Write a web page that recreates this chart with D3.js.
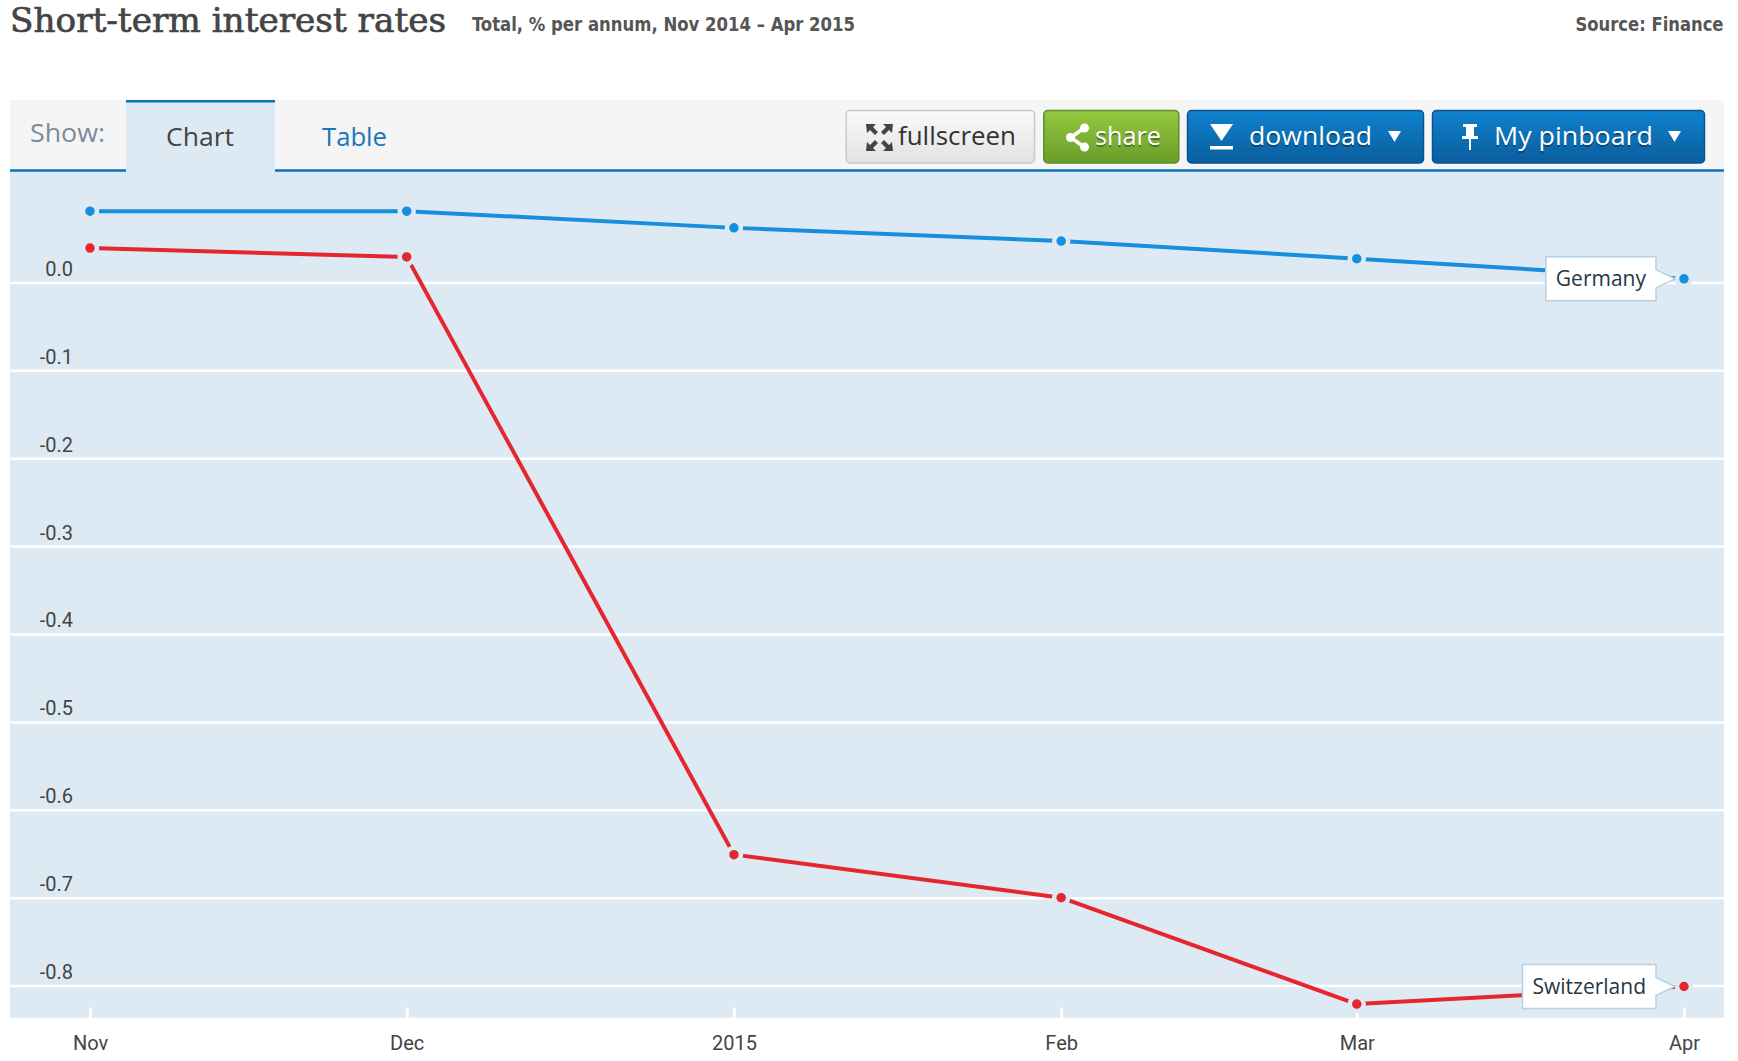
<!DOCTYPE html>
<html>
<head>
<meta charset="utf-8">
<script src="https://cdn.jsdelivr.net/npm/d3@7"></script>
<style>
  html, body { margin: 0; padding: 0; background: #fff; }
  svg { display: block; }
  .btn-text { font-family: "Open Sans", sans-serif; font-size: 26px; }
</style>
</head>
<body>
<svg id="chart" width="1738" height="1061"></svg>
<script>
// data
var months = ["2014-11-01", "2014-12-01", "2015-01-01", "2015-02-01", "2015-03-01", "2015-04-01"];
var monthLabels = ["Nov", "Dec", "2015", "Feb", "Mar", "Apr"];
var germany = [0.081, 0.081, 0.062, 0.047, 0.027, 0.004];
var switzerland = [0.039, 0.029, -0.651, -0.700, -0.821, -0.801];
var yTicks = [0, -0.1, -0.2, -0.3, -0.4, -0.5, -0.6, -0.7, -0.8];
var seriesNames = ["Germany", "Switzerland"];
var seriesColors = ["#1690dc", "#e6262f"];

var width = 1738;
var plot = { left: 10, right: 1724, top: 171, bottom: 1017.7 };
var bg = "#deeaf3";

var parse = d3.timeParse("%Y-%m-%d");
var dates = months.map(parse);

var svg = d3.select("#chart");
var defs = svg.append("defs");

function gradient(id, top, bottom) {
  var g = defs.append("linearGradient").attr("id", id)
    .attr("x1", 0).attr("y1", 0).attr("x2", 0).attr("y2", 1);
  g.append("stop").attr("offset", "0%").attr("stop-color", top);
  g.append("stop").attr("offset", "100%").attr("stop-color", bottom);
}
gradient("gGrey", "#fafafa", "#e2e2e2");
gradient("gGreen", "#95c93f", "#6a9c2a");
gradient("gBlue", "#0f82cd", "#0a5e9e");

// header
svg.append("text")
  .attr("x", 10).attr("y", 32)
  .attr("textLength", 436).attr("lengthAdjust", "spacingAndGlyphs")
  .style("font-family", "'DejaVu Serif', serif")
  .style("font-size", "33px")
  .style("fill", "#444")
  .style("stroke", "#444")
  .style("stroke-width", "0.7px")
  .text("Short-term interest rates");

svg.append("text")
  .attr("x", 472).attr("y", 31)
  .attr("textLength", 383).attr("lengthAdjust", "spacingAndGlyphs")
  .style("font-family", "'Liberation Sans Narrow', 'DejaVu Sans Condensed', sans-serif")
  .style("font-weight", "bold")
  .style("font-size", "20px")
  .style("fill", "#555")
  .text("Total, % per annum, Nov 2014 – Apr 2015");

svg.append("text")
  .attr("x", 1723.5).attr("y", 31)
  .attr("text-anchor", "end")
  .attr("textLength", 148).attr("lengthAdjust", "spacingAndGlyphs")
  .style("font-family", "'Liberation Sans Narrow', 'DejaVu Sans Condensed', sans-serif")
  .style("font-weight", "bold")
  .style("font-size", "20px")
  .style("fill", "#555")
  .text("Source: Finance");

// toolbar
svg.append("rect")
  .attr("x", plot.left).attr("y", 100)
  .attr("width", plot.right - plot.left).attr("height", 71)
  .attr("fill", "#f5f5f5");

svg.append("rect")
  .attr("x", plot.left).attr("y", plot.top)
  .attr("width", plot.right - plot.left).attr("height", plot.bottom - plot.top)
  .attr("fill", bg);

svg.append("line")
  .attr("x1", plot.left).attr("x2", plot.right)
  .attr("y1", 170.5).attr("y2", 170.5)
  .attr("stroke", "#0b71b8").attr("stroke-width", 2.5);

// chart tab
svg.append("rect")
  .attr("x", 126).attr("y", 100).attr("width", 149).attr("height", 72.5)
  .attr("fill", bg);
svg.append("rect")
  .attr("x", 126).attr("y", 100).attr("width", 149).attr("height", 2.5)
  .attr("fill", "#0b71b8");

svg.append("text").attr("x", 30).attr("y", 142)
  .attr("textLength", 75).attr("lengthAdjust", "spacingAndGlyphs")
  .style("font-family", "'Open Sans', sans-serif").style("font-size", "26px")
  .style("fill", "#7b8b9c").text("Show:");
svg.append("text").attr("x", 166).attr("y", 145.5)
  .attr("textLength", 68).attr("lengthAdjust", "spacingAndGlyphs")
  .style("font-family", "'Open Sans', sans-serif").style("font-size", "26px")
  .style("fill", "#444").text("Chart");
svg.append("text").attr("x", 322).attr("y", 145.5)
  .attr("textLength", 65).attr("lengthAdjust", "spacingAndGlyphs")
  .style("font-family", "'Open Sans', sans-serif").style("font-size", "26px")
  .style("fill", "#1a75bb").text("Table");

// buttons
function button(x0, x1, fill, stroke) {
  svg.append("rect")
    .attr("x", x0 + 0.5).attr("y", 110.5)
    .attr("width", x1 - x0 - 1).attr("height", 52.5)
    .attr("rx", 4)
    .attr("fill", fill).attr("stroke", stroke).attr("stroke-width", 1.5);
}
function btnText(x, len, txt, color, shadow) {
  if (shadow) {
    svg.append("text").attr("class", "btn-text")
      .attr("x", x).attr("y", 146.5)
      .attr("textLength", len).attr("lengthAdjust", "spacingAndGlyphs")
      .style("fill", "rgba(0,0,0,0.35)").text(txt);
  }
  svg.append("text").attr("class", "btn-text")
    .attr("x", x).attr("y", 145)
    .attr("textLength", len).attr("lengthAdjust", "spacingAndGlyphs")
    .style("fill", color).text(txt);
}

button(845.7, 1035, "url(#gGrey)", "#c9c9c9");
button(1043.3, 1179.3, "url(#gGreen)", "#5f8e27");
button(1187, 1424, "url(#gBlue)", "#08548e");
button(1432, 1705, "url(#gBlue)", "#08548e");

// fullscreen icon: four arrows
var fs = svg.append("g").attr("fill", "#444");
[[866, 124, 1, 1], [893, 124, -1, 1], [866, 151, 1, -1], [893, 151, -1, -1]].forEach(function(c) {
  var x = c[0], y = c[1], sx = c[2], sy = c[3];
  fs.append("path").attr("d",
    "M" + x + "," + y +
    "l" + (10 * sx) + ",0" +
    "l" + (-3 * sx) + "," + (3 * sy) +
    "l" + (5 * sx) + "," + (5 * sy) +
    "l" + (-3 * sx) + "," + (3 * sy) +
    "l" + (-5 * sx) + "," + (-5 * sy) +
    "l" + (-3 * sx) + "," + (3 * sy) + "Z");
});
btnText(898, 118, "fullscreen", "#333", false);

// share icon
var sh = svg.append("g").attr("fill", "#fff").attr("stroke", "#fff");
sh.append("line").attr("x1", 1071).attr("y1", 137.5).attr("x2", 1084).attr("y2", 128).attr("stroke-width", 3.5);
sh.append("line").attr("x1", 1071).attr("y1", 137.5).attr("x2", 1084).attr("y2", 147).attr("stroke-width", 3.5);
sh.append("circle").attr("cx", 1070.5).attr("cy", 137.5).attr("r", 4.5).attr("stroke", "none");
sh.append("circle").attr("cx", 1084.5).attr("cy", 128).attr("r", 4.5).attr("stroke", "none");
sh.append("circle").attr("cx", 1084.5).attr("cy", 147).attr("r", 4.5).attr("stroke", "none");
btnText(1095, 66, "share", "#fff", true);

// download icon
svg.append("path").attr("d", "M1210,124 L1233,124 L1221.5,141 Z").attr("fill", "#fff");
svg.append("rect").attr("x", 1210).attr("y", 146).attr("width", 23).attr("height", 3.5).attr("fill", "#fff");
btnText(1249, 123, "download", "#fff", true);
svg.append("path").attr("d", "M1388,131 L1401,131 L1394.5,142 Z").attr("fill", "#fff");

// pin icon
var pin = svg.append("g").attr("fill", "#fff");
pin.append("rect").attr("x", 1463).attr("y", 124).attr("width", 14).attr("height", 3);
pin.append("rect").attr("x", 1466).attr("y", 127).attr("width", 8).attr("height", 9);
pin.append("rect").attr("x", 1462).attr("y", 136).attr("width", 16).attr("height", 3);
pin.append("rect").attr("x", 1469).attr("y", 139).attr("width", 2).attr("height", 11);
btnText(1494, 159, "My pinboard", "#fff", true);
svg.append("path").attr("d", "M1668,131 L1681,131 L1674.5,142 Z").attr("fill", "#fff");

// scales
var xScale = d3.scaleTime()
  .domain([dates[0], dates[dates.length - 1]])
  .range([90, 1684]);
var yScale = d3.scaleLinear()
  .domain([-0.8365, 0.1267])
  .range([plot.bottom, plot.top]);

// y axis + grid
var yAxis = d3.axisLeft(yScale)
  .tickValues(yTicks)
  .tickSize(-(plot.right - plot.left))
  .tickFormat(function(d) { return d3.format(".1f")(d).replace("\u2212", "-"); });

var gy = svg.append("g")
  .attr("transform", "translate(" + plot.left + ",0)")
  .call(yAxis);
gy.select(".domain").remove();
gy.selectAll(".tick line").attr("stroke", "#fff").attr("stroke-width", 2.5);
gy.selectAll(".tick text")
  .attr("x", 63).attr("dy", null).attr("y", -7)
  .attr("text-anchor", "end")
  .style("font-family", "Roboto, sans-serif")
  .style("font-size", "20px")
  .style("fill", "#444");

// x axis
var xAxis = d3.axisBottom(xScale)
  .tickValues(dates)
  .tickSize(-10)
  .tickFormat(function(d, i) { return monthLabels[i]; });

var gx = svg.append("g")
  .attr("transform", "translate(0," + plot.bottom + ")")
  .call(xAxis);
gx.select(".domain").remove();
gx.selectAll(".tick line").attr("stroke", "#fff").attr("stroke-width", 3);
gx.selectAll(".tick text")
  .attr("dy", null).attr("y", 32.3)
  .style("font-family", "Roboto, sans-serif")
  .style("font-size", "20px")
  .style("fill", "#444");

// series
var series = [germany, switzerland];
var line = d3.line()
  .x(function(d, i) { return xScale(dates[i]); })
  .y(function(d) { return yScale(d); });

svg.selectAll(".series")
  .data(series)
  .enter()
  .append("path")
  .attr("class", "series")
  .attr("d", function(d) { return line(d); })
  .attr("fill", "none")
  .attr("stroke", function(d, i) { return seriesColors[i]; })
  .attr("stroke-width", 4)
  .attr("stroke-linejoin", "round");

series.forEach(function(s, k) {
  svg.selectAll(".dot" + k)
    .data(s)
    .enter()
    .append("circle")
    .attr("class", "dot" + k)
    .attr("cx", function(d, i) { return xScale(dates[i]); })
    .attr("cy", function(d) { return yScale(d); })
    .attr("r", 7)
    .attr("fill", seriesColors[k])
    .attr("stroke", bg)
    .attr("stroke-width", 4.5);
});

// end labels
series.forEach(function(s, k) {
  var last = s.length - 1;
  var px = xScale(dates[last]);
  var py = yScale(s[last]);
  var g = svg.append("g");
  var t = g.append("text")
    .style("font-family", "'Open Sans', sans-serif")
    .style("font-size", "21px")
    .style("fill", "#253746")
    .text(seriesNames[k]);
  var tw = t.node().getComputedTextLength();
  var right = px - 28;
  var left = right - tw - 20;
  var top = py - 22, bottom = py + 22;
  g.insert("path", "text")
    .attr("d", "M" + left + "," + top +
      "L" + right + "," + top +
      "L" + right + "," + (py - 9) +
      "L" + (px - 9) + "," + py +
      "L" + right + "," + (py + 9) +
      "L" + right + "," + bottom +
      "L" + left + "," + bottom + "Z")
    .attr("fill", "#fff")
    .attr("stroke", "#b5d0e3")
    .attr("stroke-width", 1.5);
  t.attr("x", left + 10).attr("y", py + 7.5);
});
</script>
</body>
</html>
